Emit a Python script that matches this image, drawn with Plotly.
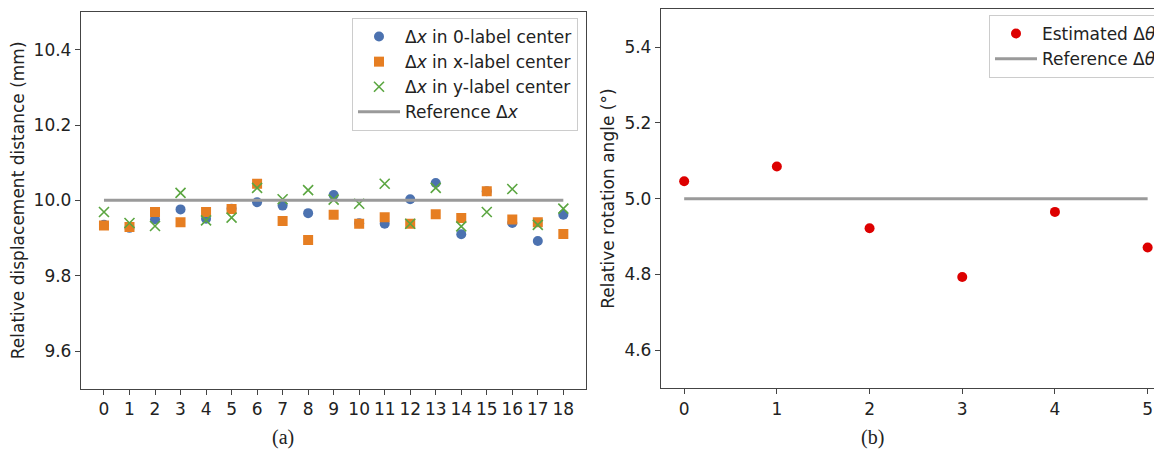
import plotly.graph_objects as go

# ---- data ----
labels_idx = list(range(19))
dx_0label = [9.935, 9.927, 9.950, 9.976, 9.951, 9.978, 9.995, 9.986, 9.966, 10.014,
             9.939, 9.938, 10.003, 10.046, 9.910, 10.024, 9.940, 9.892, 9.962]
dx_xlabel = [9.933, 9.929, 9.969, 9.942, 9.969, 9.977, 10.044, 9.945, 9.895, 9.962,
             9.938, 9.955, 9.938, 9.963, 9.953, 10.024, 9.949, 9.942, 9.911]
dx_ylabel = [9.969, 9.940, 9.932, 10.020, 9.947, 9.954, 10.033, 10.003, 10.027, 10.002,
             9.991, 10.044, 9.938, 10.033, 9.931, 9.969, 10.030, 9.935, 9.978]
ref_dx_x = [0, 18]
ref_dx_y = [10.0, 10.0]

angle_idx = [0, 1, 2, 3, 4, 5]
theta_est = [5.046, 5.085, 4.922, 4.793, 4.965, 4.871]
ref_th_x = [0, 5]
ref_th_y = [5.0, 5.0]

left_ticks = list(range(19))
left_yticks = [9.6, 9.8, 10.0, 10.2, 10.4]
right_ticks = [0, 1, 2, 3, 4, 5]
right_yticks = [4.6, 4.8, 5.0, 5.2, 5.4]

BLUE = "#4C72B0"
ORANGE = "#E67E22"
GREEN = "#5BA641"
RED = "#DD0000"
GRAY = "#9a9a9a"
FONT = "DejaVu Sans"

# the page body has an 8px margin; work in screenshot pixels and convert
OX, OY = 8, 8
W, H = 1162 - OX, 455 - OY


def px(x):
    return (x - OX) / W


def py(y):
    return 1 - (y - OY) / H


fig = go.Figure()
fig.add_trace(go.Scatter(x=labels_idx, y=dx_0label, mode="markers",
                         marker=dict(symbol="circle", size=10, color=BLUE),
                         name="Δ<i>x</i> in 0-label center", xaxis="x", yaxis="y", legend="legend"))
fig.add_trace(go.Scatter(x=labels_idx, y=dx_xlabel, mode="markers",
                         marker=dict(symbol="square", size=10, color=ORANGE),
                         name="Δ<i>x</i> in x-label center", xaxis="x", yaxis="y", legend="legend"))
fig.add_trace(go.Scatter(x=labels_idx, y=dx_ylabel, mode="markers",
                         marker=dict(symbol="x-thin", size=10, color=GREEN,
                                     line=dict(color=GREEN, width=1.6)),
                         name="Δ<i>x</i> in y-label center", xaxis="x", yaxis="y", legend="legend"))
fig.add_trace(go.Scatter(x=ref_dx_x, y=ref_dx_y, mode="lines",
                         line=dict(color=GRAY, width=3),
                         name="Reference Δ<i>x</i>", xaxis="x", yaxis="y", legend="legend"))

fig.add_trace(go.Scatter(x=angle_idx, y=theta_est, mode="markers",
                         marker=dict(symbol="circle", size=10, color=RED),
                         name="Estimated Δ<i>θ</i>", xaxis="x2", yaxis="y2", legend="legend2"))
fig.add_trace(go.Scatter(x=ref_th_x, y=ref_th_y, mode="lines",
                         line=dict(color=GRAY, width=3),
                         name="Reference Δ<i>θ</i>", xaxis="x2", yaxis="y2", legend="legend2"))

axis_common = dict(showgrid=False, zeroline=False, showline=True, linecolor="#444",
                   linewidth=1.3, ticks="outside", ticklen=5, tickwidth=1.1,
                   tickcolor="#444", tickfont=dict(family=FONT, size=17, color="#222"))

fig.update_layout(
    width=W, height=H,
    margin=dict(l=0, r=0, t=0, b=0, autoexpand=False),
    plot_bgcolor="white", paper_bgcolor="white",
    font=dict(family=FONT, size=17, color="#222"),
    xaxis=dict(domain=[px(81), px(586.3)], range=[-0.9, 18.9], anchor="y",
               tickvals=left_ticks, mirror=True, **axis_common),
    yaxis=dict(domain=[py(388.7), py(12)], range=[9.5, 10.5], anchor="x",
               tickvals=left_yticks, tickformat=".1f", mirror=True,
               title=dict(text="Relative displacement distance (mm)", standoff=4,
                          font=dict(family=FONT, size=17, color="#222")),
               **axis_common),
    xaxis2=dict(domain=[px(661), 1.0], range=[-0.25, 5.155], anchor="y2",
                tickvals=right_ticks, mirror=True, **axis_common),
    yaxis2=dict(domain=[py(388), py(9.3)], range=[4.5, 5.5], anchor="x2",
                tickvals=right_yticks, tickformat=".1f", mirror=False,
                title=dict(text="Relative rotation angle (°)", standoff=5,
                           font=dict(family=FONT, size=17, color="#222")),
                **axis_common),
    legend=dict(x=px(578), y=py(18), xanchor="right", yanchor="top",
                bgcolor="rgba(255,255,255,0.85)", bordercolor="#cccccc", borderwidth=1,
                itemwidth=42,
                font=dict(family=FONT, size=17, color="#222"), tracegroupgap=0),
    legend2=dict(x=1.0, y=py(15), xanchor="right", yanchor="top",
                 bgcolor="rgba(255,255,255,0.85)", bordercolor="#cccccc", borderwidth=1,
                 itemwidth=42,
                 font=dict(family=FONT, size=17, color="#222"), tracegroupgap=0),
    showlegend=True,
)

fig.add_annotation(text="(a)", x=px(283), y=py(437), xref="paper", yref="paper",
                   xanchor="center", yanchor="middle", showarrow=False,
                   font=dict(family="Liberation Serif", size=20, color="#222"))
fig.add_annotation(text="(b)", x=px(872), y=py(437), xref="paper", yref="paper",
                   xanchor="center", yanchor="middle", showarrow=False,
                   font=dict(family="Liberation Serif", size=20, color="#222"))

fig.write_html("out.html")
